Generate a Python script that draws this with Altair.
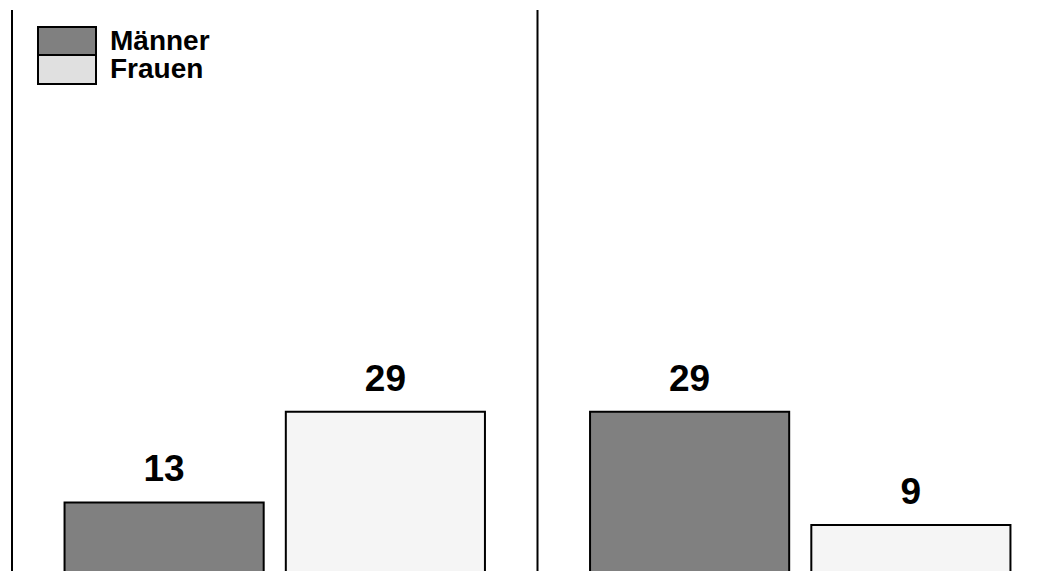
import altair as alt
import pandas as pd

groups = ["Gruppe 1", "Gruppe 1", "Gruppe 2", "Gruppe 2"]
sexes = ["Männer", "Frauen", "Männer", "Frauen"]
values = [13, 29, 29, 9]
sex_order = ["Männer", "Frauen"]
group_order = ["Gruppe 1", "Gruppe 2"]
bar_colors = ["#808080", "#f5f5f5"]
legend_colors = ["#808080", "#e0e0e0"]

df = pd.DataFrame({"gruppe": groups, "geschlecht": sexes, "wert": values})
sep = pd.DataFrame({"gruppe": group_order})

xscale = alt.Scale(domain=group_order, paddingInner=0.2, paddingOuter=0.1, range=[0, 1051])
sepscale = alt.Scale(domain=group_order, paddingInner=0, paddingOuter=0, range=[0, 1051])
yscale = alt.Scale(domain=[0, 100], range=[566, 0])
offscale = alt.Scale(domain=sex_order, paddingInner=0.1, paddingOuter=0)

xenc = alt.X("gruppe:N", scale=xscale, axis=None)
offenc = alt.XOffset("geschlecht:N", scale=offscale, sort=sex_order)
yenc = alt.Y("wert:Q", scale=yscale, axis=None)

bars = alt.Chart(df).mark_bar(stroke="black", strokeWidth=2, opacity=1).encode(
    x=xenc,
    xOffset=offenc,
    y=yenc,
    fill=alt.Fill(
        "geschlecht:N",
        scale=alt.Scale(domain=sex_order, range=bar_colors),
        sort=sex_order,
        legend=None,
    ),
)

legend_layer = alt.Chart(df).mark_bar(opacity=0, strokeOpacity=0).encode(
    x=xenc,
    xOffset=offenc,
    y=yenc,
    color=alt.Color(
        "geschlecht:N",
        scale=alt.Scale(domain=sex_order, range=legend_colors),
        sort=sex_order,
        legend=alt.Legend(
            title=None,
            orient="none",
            legendX=39.5,
            legendY=16,
            padding=0,
            symbolType="M-2,-1H2V1H-2Z",
            symbolSize=841,
            symbolStrokeColor="black",
            symbolStrokeWidth=2,
            symbolOpacity=1,
            labelFontSize=28,
            labelFontWeight="bold",
            labelFont="Liberation Sans",
            labelColor="black",
            labelOffset=27.5,
            rowPadding=-9,
            gridAlign="none",
        ),
    ),
)

labels = alt.Chart(df).mark_text(
    baseline="alphabetic", dy=-21, fontSize=37, fontWeight="bold", font="Liberation Sans", color="black"
).encode(
    x=xenc,
    xOffset=offenc,
    y=yenc,
    text=alt.Text("wert:Q"),
)

rules = alt.Chart(sep).mark_rule(color="black", strokeWidth=2).encode(
    x=alt.X("gruppe:N", scale=sepscale, axis=None, bandPosition=0),
    y=alt.Y(datum=100, scale=yscale, axis=None),
    y2=alt.Y2(datum=0),
)

chart = alt.layer(rules, legend_layer + bars + labels).resolve_scale(x="independent").properties(
    width=1033,
    height=553,
    padding={"left": 4, "top": 2, "right": 0, "bottom": 8},
    autosize=alt.AutoSizeParams(type="none"),
    background="white",
).configure_view(stroke=None)

chart.save("out.html", embed_options={"renderer": "svg", "actions": False})
